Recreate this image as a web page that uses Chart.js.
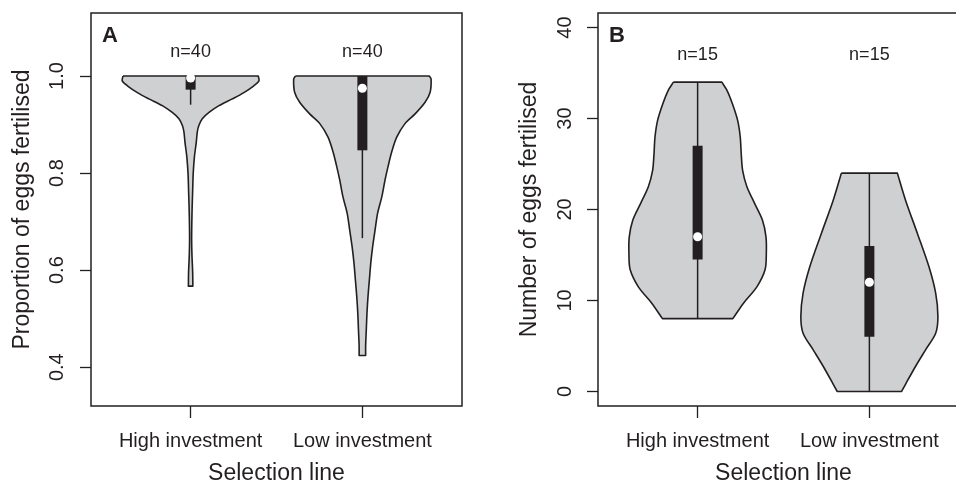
<!DOCTYPE html>
<html>
<head>
<meta charset="utf-8">
<script src="https://cdn.jsdelivr.net/npm/chart.js@4.4.0/dist/chart.umd.min.js"></script>
<style>
    html, body { margin: 0; padding: 0; background: #fff; overflow: hidden; }
    #wrap { position: relative; width: 956px; height: 482px; overflow: hidden; }
    .panel { position: absolute; top: 0; width: 478px; height: 482px; }
    #panelA { left: 0; }
    #panelB { left: 507px; }
</style>
</head>
<body>
<div id="wrap">
    <div class="panel" id="panelA"><canvas id="chartA" width="478" height="482"></canvas></div>
    <div class="panel" id="panelB"><canvas id="chartB" width="478" height="482"></canvas></div>
</div>
<script>
const categories = ['High investment', 'Low investment'];

// panel A: proportion of eggs fertilised
const yTicksA = [0.4, 0.6, 0.8, 1.0];
const sampleSizesA = [40, 40];
// violin outline: value and half width (in category units)
const violinHighA_y = [1.000, 0.990, 0.980, 0.966, 0.953, 0.939, 0.925, 0.912, 0.898, 0.885, 0.864, 0.833, 0.799, 0.765, 0.731, 0.698, 0.663, 0.629, 0.595, 0.567];
const violinHighA_w = [0.394, 0.398, 0.368, 0.310, 0.243, 0.165, 0.107, 0.068, 0.048, 0.039, 0.033, 0.022, 0.015, 0.012, 0.009, 0.007, 0.006, 0.008, 0.012, 0.013];
const violinLowA_y = [1.000, 0.994, 0.966, 0.946, 0.922, 0.902, 0.874, 0.844, 0.816, 0.786, 0.751, 0.718, 0.683, 0.649, 0.615, 0.581, 0.547, 0.513, 0.479, 0.444, 0.424];
const violinLowA_w = [0.390, 0.400, 0.394, 0.365, 0.307, 0.248, 0.200, 0.171, 0.151, 0.132, 0.113, 0.089, 0.074, 0.060, 0.049, 0.041, 0.033, 0.027, 0.023, 0.019, 0.019];
const boxLowA = [0.972, 0.847];
const boxHighA = [1.0, 1.0];
const medianA = [0.996, 0.975];
const whiskerLowA = [0.941, 0.666];
const whiskerHighA = [1.0, 1.0];

// panel B: number of eggs fertilised
const yTicksB = [0, 10, 20, 30, 40];
const sampleSizesB = [15, 15];
const violinHighB_y = [34.0, 33.1, 31.6, 29.8, 28.0, 26.1, 24.3, 22.5, 20.7, 18.8, 17.0, 15.2, 13.4, 11.5, 9.7, 8.0];
const violinHighB_w = [0.141, 0.171, 0.203, 0.233, 0.248, 0.254, 0.262, 0.287, 0.331, 0.378, 0.398, 0.400, 0.393, 0.345, 0.267, 0.205];
const violinLowB_y = [24.0, 21.0, 17.4, 13.7, 10.8, 8.25, 6.4, 4.6, 2.8, 0.95, 0.0];
const violinLowB_w = [0.163, 0.211, 0.279, 0.347, 0.386, 0.399, 0.386, 0.328, 0.270, 0.215, 0.188];
const boxLowB = [14.5, 6.0];
const boxHighB = [27.0, 16.0];
const medianB = [17.0, 12.0];
const whiskerLowB = [8, 0];
const whiskerHighB = [34, 24];

const INK = '#231f20';
const VIOLIN_FILL = '#cfd0d2';

Chart.defaults.font.family = '"Liberation Sans", Arial, Helvetica, sans-serif';
Chart.defaults.color = INK;

// closed outline; end points doubled so the flat top and bottom stay straight with tension
function violinPoints(center, ys, ws) {
    const left = ys.map((y, i) => ({ x: center - ws[i], y: y }));
    const right = ys.map((y, i) => ({ x: center + ws[i], y: y })).reverse();
    const dup = side => [side[0]].concat(side, [side[side.length - 1]]);
    return dup(left).concat(dup(right), [left[0]]);
}

// panel letter, n= labels and the box round the plot
const panelDecor = {
    id: 'panelDecor',
    afterDraw(chart, args, opts) {
        const { ctx, chartArea: a } = chart;
        const xs = chart.scales.x;
        const ys = chart.scales.y;
        ctx.save();
        ctx.strokeStyle = INK;
        ctx.lineWidth = 1.5;
        ctx.strokeRect(a.left, a.top, a.right - a.left, a.bottom - a.top);

        ctx.fillStyle = INK;
        ctx.font = 'bold 22px "Liberation Sans", Arial, sans-serif';
        ctx.textAlign = 'left';
        ctx.textBaseline = 'alphabetic';
        ctx.fillText(opts.letter, a.left + 11, a.top + 29);

        ctx.font = '18px "Liberation Sans", Arial, sans-serif';
        ctx.textAlign = 'center';
        ctx.textBaseline = 'middle';
        opts.sizes.forEach((n, i) => {
            ctx.fillText('n=' + n, xs.getPixelForValue(i + 1), ys.getPixelForValue(opts.labelY));
        });
        ctx.restore();
    }
};

function buildPanel(canvasId, p) {
    const datasets = [];

    datasets.push({
        data: p.medians.map((m, i) => ({ x: i + 1, y: m })),
        showLine: false,
        pointRadius: 4.5,
        pointBackgroundColor: '#fff',
        pointBorderWidth: 0,
        order: 0
    });

    categories.forEach((c, i) => {
        datasets.push({
            data: [{ x: i + 1, y: p.boxLow[i] }, { x: i + 1, y: p.boxHigh[i] }],
            showLine: true,
            borderColor: INK,
            borderWidth: 10,
            borderCapStyle: 'butt',
            pointRadius: 0,
            order: 1
        });
        datasets.push({
            data: [{ x: i + 1, y: p.whiskerLow[i] }, { x: i + 1, y: p.whiskerHigh[i] }],
            showLine: true,
            borderColor: INK,
            borderWidth: 1.5,
            pointRadius: 0,
            order: 2
        });
        datasets.push({
            data: violinPoints(i + 1, p.violins[i][0], p.violins[i][1]),
            showLine: true,
            fill: 'shape',
            backgroundColor: VIOLIN_FILL,
            borderColor: INK,
            borderWidth: 1.6,
            borderJoinStyle: 'round',
            pointRadius: 0,
            tension: 0.3,
            order: 3
        });
    });

    return new Chart(document.getElementById(canvasId), {
        type: 'scatter',
        data: { datasets: datasets },
        options: {
            responsive: false,
            animation: false,
            events: [],
            layout: { padding: { top: 13, right: 16, left: 0, bottom: 0 } },
            plugins: {
                legend: { display: false },
                tooltip: { enabled: false },
                panelDecor: { letter: p.letter, sizes: p.sizes, labelY: p.nLabelY }
            },
            scales: {
                x: {
                    type: 'linear',
                    min: 0.42,
                    max: 2.58,
                    afterBuildTicks: s => { s.ticks = categories.map((c, i) => ({ value: i + 1 })); },
                    afterFit: s => { s.height = 76; s.paddingLeft = 0; s.paddingRight = 0; },
                    grid: { drawOnChartArea: false, drawTicks: true, tickLength: 12, color: INK, tickWidth: 1.3 },
                    border: { display: false },
                    ticks: {
                        autoSkip: false,
                        maxRotation: 0,
                        padding: 11,
                        color: INK,
                        font: { size: 20 },
                        callback: v => categories[Math.round(v) - 1]
                    },
                    title: {
                        display: true,
                        text: 'Selection line',
                        color: INK,
                        font: { size: 23, lineHeight: 0.8 },
                        padding: { top: 0, bottom: -1 }
                    }
                },
                y: {
                    min: p.yMin,
                    max: p.yMax,
                    afterBuildTicks: s => { s.ticks = p.yTicks.map(v => ({ value: v })); },
                    afterFit: s => { s.width = 91; s.paddingTop = 0; s.paddingBottom = 0; },
                    grid: { drawOnChartArea: false, drawTicks: true, tickLength: 11, color: INK, tickWidth: 1.3 },
                    border: { display: false },
                    ticks: {
                        minRotation: 90,
                        maxRotation: 90,
                        crossAlign: 'center',
                        padding: p.tickPad,
                        color: INK,
                        font: { size: 20 },
                        callback: v => v.toFixed(p.decimals)
                    },
                    title: {
                        display: true,
                        text: p.yTitle,
                        color: INK,
                        font: { size: 23, lineHeight: 0.8 },
                        padding: { top: 13, bottom: 0 }
                    }
                }
            }
        },
        plugins: [panelDecor]
    });
}

buildPanel('chartA', {
    letter: 'A',
    yMin: 0.32, yMax: 1.13, yTicks: yTicksA, decimals: 1, tickPad: 9,
    yTitle: 'Proportion of eggs fertilised',
    violins: [[violinHighA_y, violinHighA_w], [violinLowA_y, violinLowA_w]],
    boxLow: boxLowA, boxHigh: boxHighA, medians: medianA,
    whiskerLow: whiskerLowA, whiskerHigh: whiskerHighA,
    sizes: sampleSizesA, nLabelY: 1.05
});

buildPanel('chartB', {
    letter: 'B',
    yMin: -1.6, yMax: 41.6, yTicks: yTicksB, decimals: 0, tickPad: 10,
    yTitle: 'Number of eggs fertilised',
    violins: [[violinHighB_y, violinHighB_w], [violinLowB_y, violinLowB_w]],
    boxLow: boxLowB, boxHigh: boxHighB, medians: medianB,
    whiskerLow: whiskerLowB, whiskerHigh: whiskerHighB,
    sizes: sampleSizesB, nLabelY: 37
});
</script>
</body>
</html>
